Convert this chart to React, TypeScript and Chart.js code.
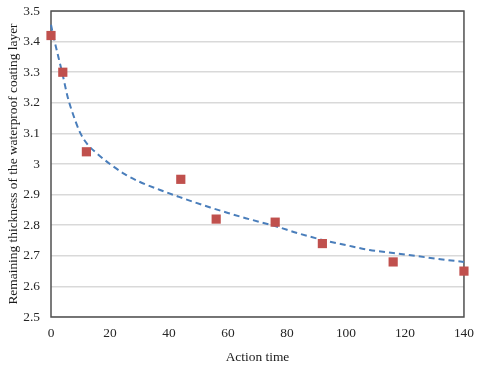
import React, { useEffect, useRef } from "react";
import { Chart, registerables } from "chart.js";

Chart.register(...registerables);

const actionTime = [0, 4, 12, 44, 56, 76, 92, 116, 140];
const thickness = [3.42, 3.3, 3.04, 2.95, 2.82, 2.81, 2.74, 2.68, 2.65];

const trendTime = [0, 1, 2.5, 4, 5.5, 7, 10, 12.5, 15.5, 20, 25, 30, 37, 43, 48, 54, 60, 66, 76, 84, 92, 100, 108, 116, 124, 132, 140];
const trendThickness = [3.455, 3.41, 3.35, 3.29, 3.225, 3.176, 3.1, 3.063, 3.035, 3.0, 2.967, 2.942, 2.915, 2.894, 2.877, 2.858, 2.84, 2.823, 2.797, 2.773, 2.752, 2.735, 2.719, 2.709, 2.699, 2.689, 2.68];

const xTitle = "Action time";
const yTitle = "Remaining thickness of the waterproof coating layer";

const FONT = "'Liberation Serif', 'Times New Roman', serif";

const boxPlugin = {
  id: "boxBorder",
  beforeDatasetsDraw(chart: any) {
    const { ctx, chartArea } = chart;
    ctx.save();
    ctx.strokeStyle = "#505050";
    ctx.lineWidth = 1.5;
    ctx.strokeRect(chartArea.left, chartArea.top, chartArea.right - chartArea.left, chartArea.bottom - chartArea.top);
    ctx.restore();
  },
};

const W = 482;
const H = 380;

export default function App() {
  const ref = useRef<HTMLCanvasElement>(null);
  useEffect(() => {
    if (!ref.current) return;
    const chart = new Chart(ref.current, {
      type: "scatter",
      data: {
        datasets: [
          {
            label: "Measured",
            data: actionTime.map((x, i) => ({ x, y: thickness[i] })),
            pointStyle: "rect",
            pointRadius: 6.5,
            pointHoverRadius: 6.5,
            backgroundColor: "#C0504D",
            borderColor: "#C0504D",
            borderWidth: 0,
            showLine: false,
            clip: false,
          },
          {
            label: "Trend",
            data: trendTime.map((x, i) => ({ x, y: trendThickness[i] })),
            showLine: true,
            pointRadius: 0,
            borderColor: "#4A7EBB",
            borderWidth: 2,
            borderDash: [6, 4],
            cubicInterpolationMode: "monotone",
            fill: false,
            clip: false,
          },
        ],
      },
      options: {
        animation: false,
        responsive: false,
        events: [],
        layout: { padding: { left: 0, right: 0, top: 0, bottom: 0 } },
        plugins: { legend: { display: false }, tooltip: { enabled: false } },
        scales: {
          x: {
            type: "linear",
            min: 0,
            max: 140,
            ticks: { stepSize: 20, color: "#262626", font: { family: FONT, size: 13.4 }, padding: 8 },
            grid: { display: false, drawTicks: false },
            border: { display: false },
            title: { display: true, text: xTitle, color: "#1a1a1a", font: { family: FONT, size: 13.4 }, padding: { top: 0, bottom: 6 } },
            afterFit: (s: any) => { s.height = 55; },
          },
          y: {
            min: 2.5,
            max: 3.5,
            ticks: {
              stepSize: 0.1,
              color: "#262626",
              font: { family: FONT, size: 13.4 },
              padding: 11,
              callback: (v: any) => String(Math.round(Number(v) * 10) / 10),
            },
            grid: { color: "#D9D9D9", lineWidth: 1.5, drawTicks: false },
            border: { display: false },
            title: { display: true, text: yTitle, color: "#1a1a1a", font: { family: FONT, size: 13.4 }, padding: { top: 5, bottom: 0 } },
            afterFit: (s: any) => { s.width = 51; },
          },
        },
      },
      plugins: [boxPlugin],
    });
    return () => chart.destroy();
  }, []);
  return (
    <div style={{ position: "fixed", left: 0, top: 0, width: 480, height: 372, overflow: "hidden", background: "#fff" }}>
      <canvas ref={ref} width={W} height={H} style={{ position: "absolute", left: 0, top: -8, width: W, height: H }} />
    </div>
  );
}
